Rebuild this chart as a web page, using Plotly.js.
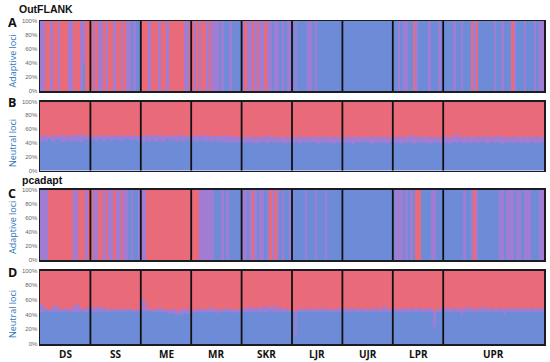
<!DOCTYPE html>
<html><head><meta charset="utf-8">
<script src="https://cdn.plot.ly/plotly-3.0.1.min.js"></script>
<style>html,body{margin:0;padding:0;background:#fff}#chart{width:550px;height:362px}</style>
</head><body><div id="chart"></div>
<script>
// ---------------- DATA ----------------
const groups = ["DS","SS","ME","MR","SKR","LJR","UJR","LPR","UPR"];
const groupSizes = [20,20,20,20,20,20,20,20,40];
const methodTitles = ["OutFLANK","pcadapt"];
const panelLetters = ["A","B","C","D"];
const panelYTitles = ["Adaptive loci","Neutral loci","Adaptive loci","Neutral loci"];
const yTickVals = [0,20,40,60,80,100];
const yTickText = ["0%","20%","40%","60%","80%","100%"];

// membership (%) per individual: blue cluster and purple cluster; red = remainder
const A_blue = [
 0,0,0,0,0,0,0,0,0,0,0,0,0,0,0,0,0,40,0,0,
 0,0,0,0,0,0,0,0,0,0,0,0,0,0,0,0,100,0,100,100,
 0,0,0,0,0,0,0,0,0,0,0,0,0,0,0,0,0,0,0,0,
 0,0,0,0,0,0,0,0,0,0,0,100,0,100,100,0,100,100,100,100,
 0,0,0,0,0,0,0,0,0,0,0,0,100,0,0,100,0,100,0,0,
 100,0,100,100,100,100,0,0,100,0,100,100,100,100,100,100,100,100,100,100,
 100,100,100,100,100,100,100,100,100,100,100,100,100,100,100,100,100,100,100,100,
 100,100,0,100,0,0,100,100,0,0,100,100,100,100,0,100,100,100,0,100,
 100,100,100,100,0,100,100,0,100,100,100,0,0,0,100,100,100,100,100,100,
 0,100,100,0,100,100,100,0,0,100,100,100,0,100,100,100,0,100,0,0];
const A_purple = [
 100,100,0,0,100,0,0,100,0,0,0,100,100,0,0,0,100,60,0,0,
 0,100,0,100,100,0,100,0,0,100,0,0,100,0,100,100,0,100,0,0,
 0,0,0,100,0,0,0,100,0,0,100,0,0,0,0,0,0,100,100,0,
 0,100,0,100,0,0,100,0,100,100,100,0,100,0,0,100,0,0,0,0,
 100,0,100,100,0,100,0,100,100,0,100,100,0,100,100,0,100,0,100,100,
 0,100,0,0,0,0,100,100,0,100,0,0,0,0,0,0,0,0,0,0,
 0,0,0,0,0,0,0,0,0,0,0,0,0,0,0,0,0,0,0,0,
 0,0,100,0,100,100,0,0,0,100,0,0,0,0,100,0,0,0,100,0,
 0,0,0,0,100,0,0,100,0,0,0,0,100,0,0,0,0,0,0,0,
 100,0,0,100,0,0,0,0,100,0,0,0,100,0,0,0,100,0,100,100];

const B_blue = [
 42,44,41,45,43,40,44,46,42,41,43,45,40,44,42,43,41,45,44,42,
 44,45,43,46,44,42,45,44,43,46,45,44,42,45,46,44,43,45,44,43,
 43,42,44,41,45,43,42,44,40,43,45,42,44,43,41,44,42,43,45,42,
 43,44,42,45,43,44,41,43,42,44,43,42,41,40,42,41,40,41,42,40,
 41,40,42,40,41,39,40,42,41,40,39,41,40,42,40,41,40,39,41,40,
 40,41,40,39,41,40,42,40,41,40,39,40,41,40,40,41,39,40,41,40,
 40,41,40,40,39,41,40,42,40,41,40,39,40,41,40,40,41,39,40,41,
 41,40,40,39,41,40,41,40,39,40,41,40,40,41,39,40,41,40,40,39,
 40,41,39,40,41,40,42,40,39,41,40,40,41,39,40,41,40,39,40,41,
 40,41,40,39,40,41,40,40,39,41,40,40,41,39,40,41,40,40,39,41];
const B_purple = [
 8,5,10,4,7,12,6,3,9,11,7,4,13,6,9,8,12,5,6,10,
 6,4,8,3,6,9,5,6,8,4,5,7,9,5,4,6,8,5,6,7,
 7,9,6,11,5,8,10,6,12,7,5,9,6,8,10,6,9,7,5,8,
 7,6,9,5,8,6,10,7,8,6,7,8,9,10,8,9,10,8,7,9,
 7,9,6,8,7,10,9,6,8,9,12,7,8,6,9,8,7,10,8,9,
 8,7,9,10,7,8,6,9,7,8,10,9,7,8,9,7,10,9,8,7,
 8,7,9,8,10,7,9,6,8,7,9,10,8,7,9,8,7,10,9,7,
 7,9,8,10,7,9,8,13,10,8,7,9,8,7,10,9,8,7,9,10,
 8,7,10,9,8,16,7,9,10,8,9,8,7,10,9,8,12,10,9,7,
 8,9,8,10,9,7,8,9,10,8,9,8,7,10,9,8,9,8,10,7];

const C_blue = [
 0,0,0,0,0,0,0,0,0,0,0,0,0,0,0,0,0,0,0,0,
 0,0,0,0,0,0,0,0,0,0,0,0,0,0,0,100,0,100,100,0,
 0,0,0,0,0,0,0,0,0,0,0,0,0,0,0,0,0,0,0,0,
 0,0,0,0,0,0,0,0,0,100,100,100,0,100,0,100,100,100,100,100,
 0,0,100,0,0,0,100,0,0,100,0,0,0,0,0,100,0,100,100,0,
 100,100,100,100,100,0,100,100,100,0,100,100,100,0,100,100,100,100,100,100,
 100,100,100,100,100,100,100,100,100,100,100,100,100,100,100,100,100,100,100,100,
 100,0,0,0,100,0,100,0,100,0,0,100,100,100,100,0,0,100,100,100,
 100,100,100,100,100,100,100,100,0,100,100,0,0,0,100,100,100,100,100,100,
 100,100,0,0,100,0,0,0,100,0,0,100,0,0,0,100,100,100,0,0];
const C_purple = [
 100,100,100,0,0,0,0,0,0,0,0,0,0,100,100,0,0,0,100,0,
 0,100,100,0,0,100,0,100,100,0,100,100,0,100,100,0,100,0,0,100,
 100,100,0,0,0,0,0,0,0,0,0,0,0,0,0,0,0,0,0,0,
 0,0,0,100,100,100,100,100,100,0,0,0,100,0,100,0,0,0,0,0,
 100,100,0,100,0,100,0,100,100,0,100,0,100,0,100,0,100,0,0,100,
 0,0,0,0,0,100,0,0,0,100,0,0,0,100,0,0,0,0,0,0,
 0,0,0,0,0,0,0,0,0,0,0,0,0,0,0,0,0,0,0,0,
 0,100,100,100,0,100,0,100,0,0,0,0,0,0,0,100,100,0,0,0,
 0,0,0,0,0,0,0,0,100,0,0,100,0,100,0,0,0,0,0,0,
 0,0,100,100,0,100,100,100,0,100,100,0,100,100,100,0,0,0,100,100];

const D_blue = [
 44,43,45,44,45,44,44,45,44,45,44,45,44,43,44,44,45,44,44,45,
 45,44,44,45,44,45,44,44,45,44,45,44,44,45,44,45,44,44,45,44,
 44,45,44,45,44,44,45,44,43,44,42,41,42,40,39,40,41,42,41,42,
 43,43,44,43,42,43,43,44,43,43,42,43,43,44,43,43,42,43,43,42,
 44,44,45,44,44,45,44,44,45,44,44,45,44,44,44,45,44,44,45,44,
 44,12,44,45,44,44,45,44,44,45,44,44,45,44,44,45,44,44,45,44,
 44,45,44,44,45,44,44,45,44,44,45,44,44,45,44,44,45,44,44,45,
 44,45,44,44,45,44,44,45,44,44,45,44,44,45,44,44,23,44,44,45,
 44,45,44,44,45,44,44,38,44,44,45,44,44,45,44,44,45,44,44,45,
 44,44,45,44,40,44,45,44,44,45,44,44,45,44,44,45,44,44,45,44];
const D_purple = [
 10,8,3,2,3,9,8,2,3,2,3,2,3,9,10,8,2,3,5,6,
 6,5,7,6,5,6,2,3,2,3,2,3,2,2,3,2,3,2,3,2,
 20,12,3,2,4,2,3,5,4,3,4,5,6,7,6,5,6,5,6,4,
 3,2,3,4,5,6,3,8,4,3,5,4,3,4,6,5,4,3,4,5,
 3,5,4,6,5,4,7,5,6,8,5,6,9,4,6,5,3,4,3,2,
 2,32,3,2,3,4,3,5,4,3,4,5,3,4,3,2,3,2,4,3,
 3,4,3,5,4,3,4,3,5,4,3,4,6,3,4,3,8,5,4,3,
 3,2,3,4,3,5,3,4,3,5,4,3,4,3,5,3,22,4,3,4,
 3,5,4,6,3,4,5,10,4,6,5,4,3,5,4,6,5,4,3,5,
 4,3,5,4,9,5,4,3,5,4,3,5,4,3,5,4,3,5,4,3];

// ---------------- STYLE / LAYOUT ----------------
const W = 550, H = 362;
const COL = {blue:'#6E8BD8', purple:'#A07CD2', red:'#E96B7A'};
const FONT = 'Open Sans, Noto Sans, sans-serif';
const TFONT = 'Liberation Sans, Arial, sans-serif';
const plotLeft = 40, plotRight = 544;
const panelGeom = [
  {top:21,   bottom:91,  letterY:22.7, titleY:61},
  {top:101.5,bottom:170.5, letterY:102.5,titleY:143.5},
  {top:189.5,bottom:260, letterY:193,  titleY:227.5},
  {top:270.5,bottom:344, letterY:272,  titleY:314.5}
];
const methodPos = [{x:18,y:8.5},{x:21,y:180}];
const groupLabelY = 354;

const panelData = [[A_blue,A_purple],[B_blue,B_purple],[C_blue,C_purple],[D_blue,D_purple]];
const nInd = A_blue.length;
const xs = Array.from({length:nInd},(_,i)=>i);

const py = v => 1 - v / H;
const pxX = v => v / W;

const traces = [];
const layout = {
  width: W, height: H,
  margin: {l:0,r:0,t:0,b:0},
  paper_bgcolor:'#fff', plot_bgcolor:'#fff',
  barmode:'stack', bargap:0,
  showlegend:false,
  font:{family:FONT},
  shapes:[], annotations:[]
};

const bounds = [];
let cum = 0;
groupSizes.forEach((s,i)=>{ if(i<groupSizes.length-1){ cum+=s; bounds.push(cum-0.5);} });
const centers = [];
cum = 0;
groupSizes.forEach(s=>{ centers.push(cum + s/2 - 0.5); cum += s; });

panelData.forEach((pd,i)=>{
  const s = i===0 ? '' : String(i+1);
  const blue = pd[0], purple = pd[1];
  const red = blue.map((b,j)=>100 - b - purple[j]);
  [[blue,COL.blue],[purple,COL.purple],[red,COL.red]].forEach(([vals,c])=>{
    traces.push({type:'bar', x:xs, y:vals, xaxis:'x'+s, yaxis:'y'+s,
      marker:{color:c, line:{width:0}}, hoverinfo:'skip', showlegend:false});
  });
  const g = panelGeom[i];
  layout['xaxis'+s] = {domain:[pxX(plotLeft),pxX(plotRight)], anchor:'y'+s,
    range:[-0.5,nInd-0.5], showticklabels:false, ticks:'', showgrid:false, zeroline:false,
    showline:true, mirror:true, linecolor:'#1b1b24', linewidth:1.5, fixedrange:true};
  layout['yaxis'+s] = {domain:[py(g.bottom),py(g.top)], anchor:'x'+s,
    range:[0,100], tickvals:yTickVals, ticktext:yTickText, ticks:'',
    tickfont:{size:6, color:'#666', family:TFONT}, showgrid:false, zeroline:false,
    showline:true, mirror:true, linecolor:'#1b1b24', linewidth:1.5, fixedrange:true};
  bounds.forEach(b=>{
    layout.shapes.push({type:'line', xref:'x'+s, yref:'y'+s+' domain',
      x0:b, x1:b, y0:0, y1:1, line:{color:'#111', width:1.8}});
  });
  layout.annotations.push({xref:'paper', yref:'paper', x:pxX(12), y:py(g.letterY),
    text:'<b>'+panelLetters[i]+'</b>', showarrow:false, xanchor:'center', yanchor:'middle',
    font:{size:12.5, color:'#111', family:FONT}});
  layout.annotations.push({xref:'paper', yref:'paper', x:pxX(12.5), y:py(g.titleY),
    text:panelYTitles[i], textangle:-90, showarrow:false, xanchor:'center', yanchor:'middle',
    font:{size:9, color:'#2E75B6', family:FONT}});
});

methodTitles.forEach((t,i)=>{
  layout.annotations.push({xref:'paper', yref:'paper', x:pxX(methodPos[i].x), y:py(methodPos[i].y),
    text:'<b>'+t+'</b>', showarrow:false, xanchor:'left', yanchor:'middle', borderpad:0,
    font:{size:10.5, color:'#111', family:TFONT}});
});

groups.forEach((gname,k)=>{
  layout.annotations.push({xref:'x4', yref:'paper', x:centers[k], y:py(groupLabelY),
    text:'<b>'+gname+'</b>', showarrow:false, xanchor:'center', yanchor:'middle',
    font:{size:10, color:'#111', family:FONT}});
});

Plotly.newPlot('chart', traces, layout, {displayModeBar:false, staticPlot:true});
</script></body></html>
